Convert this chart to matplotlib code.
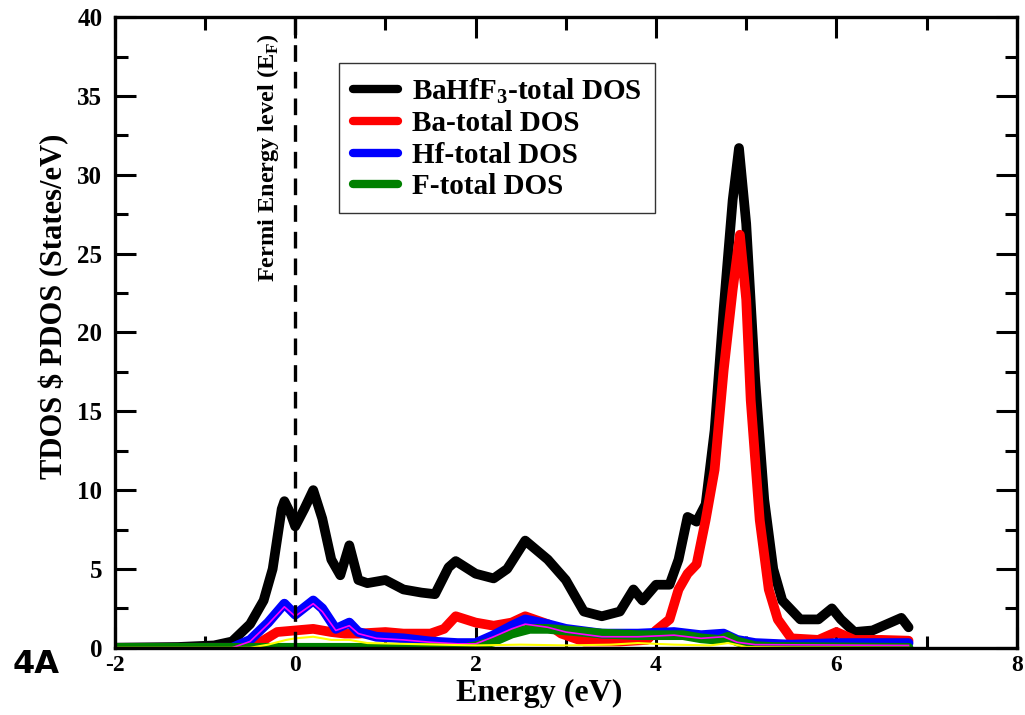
import matplotlib
matplotlib.use('Agg')
import matplotlib.pyplot as plt
from matplotlib.ticker import MultipleLocator

plt.rcParams['font.family'] = ['Liberation Serif', 'DejaVu Serif']
plt.rcParams['font.weight'] = 'bold'
plt.rcParams['axes.labelweight'] = 'bold'
plt.rcParams['axes.unicode_minus'] = False
plt.rcParams['mathtext.fontset'] = 'custom'
plt.rcParams['mathtext.rm'] = 'Liberation Serif:bold'
plt.rcParams['mathtext.bf'] = 'Liberation Serif:bold'

# energies (eV) and DOS values
e_tot = [-2.0, -1.3, -0.9, -0.7, -0.5, -0.35, -0.25, -0.15, -0.12, -0.05, 0.0, 0.1, 0.2, 0.3,
         0.4, 0.5, 0.6, 0.7, 0.8, 1.0, 1.2, 1.4, 1.55, 1.7, 1.78, 2.0, 2.2, 2.35, 2.55, 2.8,
         3.0, 3.2, 3.4, 3.6, 3.75, 3.85, 4.0, 4.15, 4.25, 4.35, 4.45, 4.55, 4.65, 4.75, 4.85,
         4.92, 5.0, 5.1, 5.2, 5.3, 5.4, 5.6, 5.8, 5.95, 6.05, 6.2, 6.4, 6.6, 6.72, 6.8]
dos_tot = [0.0, 0.05, 0.15, 0.4, 1.5, 3.0, 5.0, 8.8, 9.3, 8.5, 7.7, 8.8, 10.0, 8.2,
           5.6, 4.6, 6.5, 4.3, 4.1, 4.3, 3.7, 3.5, 3.4, 5.1, 5.5, 4.7, 4.4, 5.0, 6.8, 5.6,
           4.3, 2.3, 2.0, 2.3, 3.7, 3.0, 4.0, 4.0, 5.6, 8.3, 8.0, 9.1, 13.8, 21.5, 28.4,
           31.7, 26.9, 17.0, 9.4, 5.0, 3.0, 1.8, 1.8, 2.5, 1.8, 1.0, 1.1, 1.6, 1.9, 1.3]

e_ba = [-2.0, -0.6, -0.4, -0.2, 0.0, 0.2, 0.4, 0.55, 0.7, 1.0, 1.2, 1.5, 1.65, 1.78, 2.0,
        2.2, 2.4, 2.55, 2.8, 2.95, 3.2, 3.6, 3.9, 4.0, 4.15, 4.25, 4.35, 4.45, 4.55, 4.65,
        4.75, 4.85, 4.93, 5.0, 5.05, 5.15, 5.25, 5.35, 5.5, 5.8, 6.0, 6.2, 6.5, 6.8]
dos_ba = [0.0, 0.0, 0.3, 1.0, 1.1, 1.2, 1.0, 0.9, 0.9, 1.0, 0.9, 0.9, 1.2, 2.0, 1.6,
          1.4, 1.6, 2.0, 1.5, 0.9, 0.4, 0.4, 0.5, 1.1, 1.8, 3.7, 4.7, 5.3, 8.1, 11.3,
          17.6, 22.7, 26.2, 22.1, 15.7, 8.1, 3.7, 1.8, 0.6, 0.5, 1.0, 0.5, 0.5, 0.45]

e_hf = [-2.0, -0.7, -0.5, -0.3, -0.12, 0.0, 0.2, 0.3, 0.45, 0.6, 0.7, 0.9, 1.2, 1.5, 1.8,
        2.0, 2.2, 2.4, 2.55, 2.8, 3.0, 3.4, 3.8, 4.2, 4.5, 4.75, 4.9, 5.1, 5.5, 6.0, 6.8]
dos_hf = [0.0, 0.0, 0.5, 1.6, 2.8, 2.1, 3.0, 2.5, 1.2, 1.6, 1.0, 0.7, 0.6, 0.4, 0.3,
          0.3, 0.8, 1.4, 1.8, 1.5, 1.2, 0.9, 0.9, 1.0, 0.8, 0.9, 0.5, 0.3, 0.2, 0.3, 0.3]

e_f = [-2.0, 1.9, 2.0, 2.2, 2.4, 2.6, 2.8, 3.0, 3.4, 3.8, 4.0, 4.3, 4.5, 4.7, 4.8, 4.9,
       5.1, 5.3, 6.8]
dos_f = [0.0, 0.0, 0.1, 0.4, 0.9, 1.2, 1.2, 1.1, 0.9, 0.8, 0.8, 0.8, 0.6, 0.5, 0.7, 0.4,
         0.1, 0.05, 0.0]

# unlabelled thin curves
e_mag = [-2.0, -0.7, -0.5, -0.3, -0.12, 0.0, 0.2, 0.3, 0.45, 0.6, 0.7, 0.9, 1.2, 1.5, 1.8,
         2.0, 2.2, 2.4, 2.55, 2.8, 3.0, 3.4, 3.8, 4.2, 4.5, 4.75, 4.9, 5.1, 6.8]
dos_mag = [0.0, 0.0, 0.4, 1.5, 2.6, 2.0, 2.8, 2.3, 1.1, 1.4, 0.9, 0.6, 0.5, 0.35, 0.25,
           0.25, 0.7, 1.2, 1.5, 1.3, 1.0, 0.7, 0.7, 0.8, 0.6, 0.7, 0.35, 0.2, 0.15]

e_yel = [-2.0, -0.5, -0.3, -0.1, 0.0, 0.2, 0.4, 0.6, 0.8, 1.2, 1.6, 2.0, 2.5, 3.0, 3.5,
         3.8, 4.2, 4.6, 4.8, 5.0, 5.5, 6.8]
dos_yel = [0.0, 0.0, 0.2, 0.5, 0.6, 0.7, 0.5, 0.5, 0.3, 0.25, 0.2, 0.15, 0.2, 0.15, 0.2,
           0.3, 0.2, 0.15, 0.3, 0.05, 0.02, 0.0]

fig = plt.figure(figsize=(10.25, 7.15), dpi=100)
ax = fig.add_axes([0.112, 0.094, 0.880, 0.882])

lw = 7
style = dict(solid_joinstyle='round', solid_capstyle='round')
ax.plot(e_tot, dos_tot, color='black', lw=lw, label='BaHfF$_\\mathbf{3}$-total DOS', zorder=3, **style)
ax.plot(e_ba, dos_ba, color='red', lw=lw, label='Ba-total DOS', zorder=4, **style)
ax.plot(e_hf, dos_hf, color='blue', lw=lw, label='Hf-total DOS', zorder=5, **style)
ax.plot(e_f, dos_f, color='green', lw=lw, label='F-total DOS', zorder=6, **style)
ax.plot(e_mag, dos_mag, color='magenta', lw=1.2, zorder=7)
ax.plot(e_yel, dos_yel, color='yellow', lw=1.5, zorder=7)

# Fermi level
ax.axvline(0, color='black', lw=2.4, ls=(0, (5, 3)), zorder=8)
ax.text(-0.3, 39.0, 'Fermi Energy level (E$_\\mathbf{F}$)', rotation=90,
        ha='center', va='top', fontsize=17.5)

ax.set_xlim(-2, 8)
ax.set_ylim(0, 40)
ax.xaxis.set_major_locator(MultipleLocator(2))
ax.xaxis.set_minor_locator(MultipleLocator(1))
ax.yaxis.set_major_locator(MultipleLocator(5))
ax.yaxis.set_minor_locator(MultipleLocator(2.5))
ax.tick_params(which='both', direction='in', top=True, right=True, labelsize=18)
ax.tick_params(axis='x', pad=5, labelsize=17)
ax.tick_params(axis='y', pad=9)
ax.tick_params(which='major', length=15, width=2.2)
ax.tick_params(which='minor', length=9, width=2.2)
for spine in ax.spines.values():
    spine.set_linewidth(2.4)
    spine.set_zorder(10)

ax.set_xlabel('Energy (eV)', fontsize=23)
ax.set_ylabel('TDOS \\$ PDOS (States/eV)', fontsize=22)
ax.xaxis.set_label_coords(0.470, -0.050)
ax.yaxis.set_label_coords(-0.05, 0.542)

leg = ax.legend(loc='upper left', bbox_to_anchor=(0.249, 0.927), borderaxespad=0,
                fontsize=21, frameon=True, fancybox=False, edgecolor='black',
                handlelength=1.55, handletextpad=0.5, borderpad=0.45, labelspacing=0.15)
leg.get_frame().set_linewidth(1.0)
for line in leg.get_lines():
    line.set_linewidth(6)

fig.text(0.012, 0.07, '4A', family='DejaVu Sans', fontsize=23, fontweight='bold', va='center')

fig.savefig('out.png', dpi=100, facecolor='white')
